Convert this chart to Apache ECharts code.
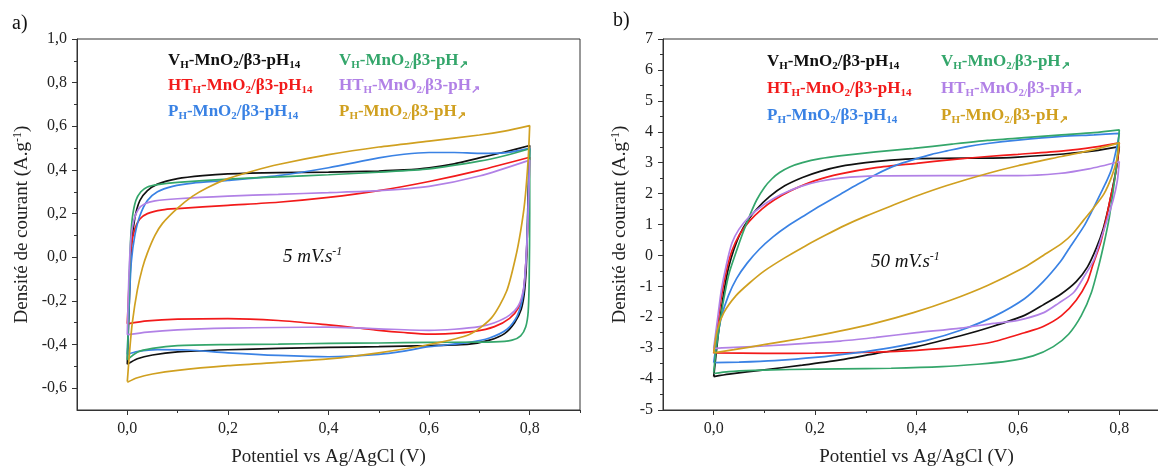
<!DOCTYPE html>
<html><head><meta charset="utf-8">
<script src="https://cdn.jsdelivr.net/npm/echarts@6/dist/echarts.min.js"></script>
<style>html,body{margin:0;padding:0;background:#fff}#c{width:1158px;height:468px}</style>
</head><body><div id="c"></div>
<script>
// ---------- data ----------
const seriesNames = ['VH-MnO2/β3-pH14','HTH-MnO2/β3-pH14','PH-MnO2/β3-pH14','VH-MnO2/β3-pH↗','HTH-MnO2/β3-pH↗','PH-MnO2/β3-pH↗'];
const xMajorTicks = [0, 0.2, 0.4, 0.6, 0.8];
const xMinorTicks = [0.1, 0.3, 0.5, 0.7, 0.9];
const yMajorTicksA = [-0.6, -0.4, -0.2, 0, 0.2, 0.4, 0.6, 0.8, 1.0];
const yMinorTicksA = [-0.5, -0.3, -0.1, 0.1, 0.3, 0.5, 0.7, 0.9];
const yMajorTicksB = [-5, -4, -3, -2, -1, 0, 1, 2, 3, 4, 5, 6, 7];
const yMinorTicksB = [-4.5, -3.5, -2.5, -1.5, -0.5, 0.5, 1.5, 2.5, 3.5, 4.5, 5.5, 6.5];

// panel a : 5 mV/s
const a_V14 = [[0,-0.49],[0.004,-0.2],[0.008,0.05],[0.015,0.18],[0.025,0.26],[0.04,0.305],[0.06,0.335],[0.1,0.36],[0.15,0.374],[0.2,0.382],[0.3,0.388],[0.4,0.39],[0.5,0.395],[0.55,0.4],[0.6,0.41],[0.65,0.428],[0.7,0.455],[0.75,0.482],[0.8,0.512],
  [0.797,0.3],[0.794,0.0],[0.79,-0.15],[0.783,-0.24],[0.77,-0.3],[0.75,-0.35],[0.72,-0.38],[0.68,-0.398],[0.6,-0.405],[0.5,-0.41],[0.4,-0.413],[0.3,-0.418],[0.2,-0.424],[0.1,-0.434],[0.05,-0.448],[0.02,-0.465],[0,-0.49]];
const a_HT14 = [[0,-0.305],[0.004,-0.1],[0.008,0.05],[0.015,0.13],[0.025,0.175],[0.04,0.2],[0.07,0.217],[0.1,0.223],[0.2,0.238],[0.3,0.252],[0.4,0.274],[0.5,0.305],[0.6,0.347],[0.7,0.398],[0.8,0.458],
  [0.797,0.2],[0.793,0.0],[0.788,-0.15],[0.778,-0.23],[0.76,-0.28],[0.73,-0.318],[0.69,-0.34],[0.64,-0.35],[0.6,-0.352],[0.55,-0.345],[0.5,-0.335],[0.45,-0.322],[0.4,-0.31],[0.3,-0.29],[0.2,-0.281],[0.1,-0.284],[0.04,-0.292],[0,-0.305]];
const a_P14 = [[0,-0.445],[0.004,-0.2],[0.008,-0.02],[0.015,0.1],[0.025,0.19],[0.04,0.26],[0.06,0.3],[0.09,0.325],[0.13,0.34],[0.2,0.352],[0.3,0.374],[0.4,0.41],[0.5,0.455],[0.55,0.472],[0.6,0.48],[0.65,0.48],[0.7,0.476],[0.75,0.478],[0.8,0.5],
  [0.797,0.25],[0.793,0.0],[0.787,-0.17],[0.775,-0.27],[0.755,-0.33],[0.72,-0.37],[0.68,-0.39],[0.6,-0.41],[0.55,-0.43],[0.5,-0.445],[0.4,-0.456],[0.3,-0.45],[0.2,-0.438],[0.12,-0.425],[0.06,-0.423],[0.02,-0.432],[0,-0.445]];
const a_Vup = [[0,-0.47],[0.003,-0.2],[0.006,0.05],[0.01,0.18],[0.017,0.26],[0.027,0.3],[0.04,0.322],[0.06,0.333],[0.1,0.343],[0.2,0.358],[0.3,0.368],[0.4,0.378],[0.5,0.39],[0.6,0.405],[0.7,0.44],[0.75,0.465],[0.8,0.497],
  [0.8,0.2],[0.799,-0.1],[0.797,-0.25],[0.792,-0.32],[0.782,-0.36],[0.765,-0.38],[0.73,-0.388],[0.6,-0.39],[0.5,-0.393],[0.4,-0.395],[0.3,-0.398],[0.2,-0.4],[0.1,-0.405],[0.05,-0.418],[0.02,-0.435],[0,-0.47]];
const a_HTup = [[0,-0.355],[0.003,-0.1],[0.007,0.08],[0.013,0.17],[0.022,0.22],[0.035,0.245],[0.055,0.258],[0.1,0.268],[0.2,0.28],[0.3,0.288],[0.4,0.296],[0.5,0.305],[0.6,0.325],[0.7,0.372],[0.8,0.445],
  [0.797,0.2],[0.793,0.0],[0.788,-0.14],[0.778,-0.22],[0.76,-0.265],[0.73,-0.3],[0.7,-0.318],[0.65,-0.33],[0.6,-0.335],[0.5,-0.328],[0.4,-0.32],[0.3,-0.322],[0.2,-0.325],[0.1,-0.333],[0.04,-0.343],[0,-0.355]];
const a_Pup = [[0,-0.57],[0.005,-0.42],[0.01,-0.3],[0.02,-0.15],[0.03,-0.05],[0.04,0.02],[0.055,0.1],[0.07,0.155],[0.1,0.225],[0.13,0.28],[0.16,0.32],[0.2,0.36],[0.25,0.395],[0.3,0.425],[0.4,0.47],[0.5,0.505],[0.6,0.532],[0.7,0.56],[0.75,0.578],[0.8,0.603],
  [0.797,0.45],[0.79,0.25],[0.782,0.12],[0.772,0.0],[0.754,-0.156],[0.724,-0.278],[0.68,-0.354],[0.6,-0.4],[0.5,-0.438],[0.4,-0.466],[0.3,-0.482],[0.2,-0.497],[0.1,-0.518],[0.05,-0.535],[0.02,-0.552],[0,-0.573]];

// panel b : 50 mV/s
const b_V14 = [[0,-3.92],[0.008,-2.7],[0.015,-1.75],[0.022,-1.0],[0.03,-0.35],[0.04,0.2],[0.052,0.7],[0.066,1.1],[0.085,1.5],[0.11,1.9],[0.14,2.25],[0.175,2.52],[0.21,2.72],[0.25,2.88],[0.3,3.0],[0.35,3.08],[0.4,3.13],[0.5,3.15],[0.55,3.15],[0.6,3.18],[0.69,3.28],[0.75,3.38],[0.8,3.52],
  [0.795,2.9],[0.787,2.2],[0.778,1.5],[0.768,0.85],[0.755,0.25],[0.737,-0.38],[0.715,-0.85],[0.686,-1.24],[0.65,-1.6],[0.613,-1.94],[0.55,-2.3],[0.487,-2.6],[0.4,-2.95],[0.321,-3.17],[0.25,-3.38],[0.175,-3.55],[0.1,-3.7],[0.03,-3.84],[0,-3.92]];
const b_HT14 = [[0,-3.17],[0.008,-2.2],[0.015,-1.35],[0.025,-0.5],[0.036,0.15],[0.05,0.65],[0.07,1.1],[0.095,1.5],[0.12,1.8],[0.15,2.08],[0.2,2.42],[0.25,2.64],[0.32,2.84],[0.4,2.98],[0.47,3.1],[0.54,3.2],[0.6,3.27],[0.69,3.38],[0.75,3.5],[0.8,3.64],
  [0.796,3.0],[0.79,2.4],[0.783,1.9],[0.773,1.1],[0.763,0.4],[0.748,-0.3],[0.737,-0.85],[0.715,-1.45],[0.686,-1.95],[0.65,-2.3],[0.613,-2.5],[0.55,-2.8],[0.487,-2.95],[0.4,-3.07],[0.32,-3.13],[0.2,-3.16],[0.1,-3.17],[0,-3.15]];
const b_P14 = [[0,-3.47],[0.006,-2.8],[0.015,-2.0],[0.029,-1.3],[0.045,-0.75],[0.066,-0.25],[0.09,0.2],[0.117,0.6],[0.146,0.95],[0.18,1.3],[0.212,1.62],[0.25,1.98],[0.284,2.3],[0.32,2.62],[0.36,2.92],[0.394,3.1],[0.43,3.27],[0.46,3.38],[0.5,3.52],[0.54,3.62],[0.6,3.73],[0.686,3.85],[0.75,3.9],[0.8,3.95],
  [0.795,3.5],[0.785,2.8],[0.775,2.4],[0.763,2.0],[0.745,1.4],[0.73,0.94],[0.7,0.2],[0.684,-0.2],[0.65,-0.85],[0.613,-1.4],[0.552,-1.98],[0.487,-2.42],[0.42,-2.75],[0.35,-2.98],[0.28,-3.15],[0.2,-3.3],[0.12,-3.4],[0.05,-3.45],[0,-3.47]];
const b_Vup = [[0,-3.78],[0.005,-3.0],[0.012,-2.2],[0.02,-1.4],[0.03,-0.6],[0.044,0.1],[0.058,0.75],[0.072,1.33],[0.085,1.8],[0.1,2.2],[0.115,2.48],[0.13,2.68],[0.15,2.86],[0.175,3.0],[0.21,3.13],[0.248,3.22],[0.32,3.35],[0.394,3.46],[0.47,3.6],[0.54,3.72],[0.62,3.82],[0.686,3.9],[0.75,3.97],[0.8,4.06],
  [0.795,3.0],[0.788,2.1],[0.78,1.2],[0.77,0.4],[0.76,-0.3],[0.745,-1.2],[0.725,-1.95],[0.7,-2.55],[0.67,-2.95],[0.63,-3.25],[0.58,-3.42],[0.52,-3.52],[0.45,-3.6],[0.35,-3.65],[0.25,-3.67],[0.15,-3.69],[0.08,-3.72],[0.03,-3.76],[0,-3.82]];
const b_HTup = [[0,-3.01],[0.008,-2.0],[0.015,-1.13],[0.025,-0.3],[0.036,0.4],[0.05,0.85],[0.07,1.25],[0.095,1.6],[0.12,1.86],[0.145,2.06],[0.175,2.25],[0.21,2.4],[0.25,2.5],[0.32,2.57],[0.45,2.58],[0.6,2.58],[0.68,2.65],[0.74,2.8],[0.8,3.03],
  [0.796,2.4],[0.788,1.8],[0.776,1.15],[0.763,0.5],[0.75,-0.14],[0.73,-0.7],[0.71,-1.2],[0.68,-1.55],[0.651,-1.85],[0.6,-2.1],[0.552,-2.2],[0.487,-2.35],[0.4,-2.5],[0.32,-2.65],[0.25,-2.77],[0.175,-2.85],[0.1,-2.93],[0.03,-2.98],[0,-3.01]];
const b_Pup = [[0,-3.15],[0.007,-2.42],[0.02,-1.85],[0.044,-1.3],[0.07,-0.9],[0.1,-0.5],[0.14,-0.08],[0.18,0.3],[0.22,0.65],[0.26,0.98],[0.3,1.27],[0.35,1.6],[0.4,1.92],[0.46,2.26],[0.54,2.65],[0.6,2.9],[0.686,3.2],[0.75,3.42],[0.8,3.64],
  [0.795,3.1],[0.785,2.55],[0.77,2.0],[0.75,1.55],[0.73,1.15],[0.708,0.7],[0.686,0.38],[0.65,0.0],[0.613,-0.38],[0.54,-0.97],[0.467,-1.45],[0.394,-1.85],[0.321,-2.18],[0.248,-2.45],[0.175,-2.68],[0.102,-2.88],[0.04,-3.05],[0,-3.15]];

const panelA = [a_V14, a_HT14, a_P14, a_Vup, a_HTup, a_Pup];
const panelB = [b_V14, b_HT14, b_P14, b_Vup, b_HTup, b_Pup];

// ---------- styling ----------
const colors = ['#111111', '#f21a1a', '#3a82e4', '#34a66b', '#b181e6', '#d0a020'];
const SERIF = '"Liberation Serif", "Times New Roman", serif';
const AX = '#333';

const labelParts = {
  'VH-MnO2/β3-pH14': [['t','V'],['s','H'],['t','-MnO'],['s','2'],['t','/β3-pH'],['s','14']],
  'HTH-MnO2/β3-pH14': [['t','HT'],['s','H'],['t','-MnO'],['s','2'],['t','/β3-pH'],['s','14']],
  'PH-MnO2/β3-pH14': [['t','P'],['s','H'],['t','-MnO'],['s','2'],['t','/β3-pH'],['s','14']],
  'VH-MnO2/β3-pH↗': [['t','V'],['s','H'],['t','-MnO'],['s','2/'],['t','β3-pH'],['s','↗']],
  'HTH-MnO2/β3-pH↗': [['t','HT'],['s','H'],['t','-MnO'],['s','2/'],['t','β3-pH'],['s','↗']],
  'PH-MnO2/β3-pH↗': [['t','P'],['s','H'],['t','-MnO'],['s','2/'],['t','β3-pH'],['s','↗']]
};
const rich = {};
colors.forEach((c, i) => {
  rich['t' + i] = {color: c, fontFamily: SERIF, fontWeight: 'bold', fontSize: 17, lineHeight: 20, verticalAlign: 'middle'};
  rich['s' + i] = {color: c, fontFamily: SERIF, fontWeight: 'bold', fontSize: 11, lineHeight: 14, verticalAlign: 'bottom'};
});
function legendText(name) {
  const i = seriesNames.indexOf(name);
  return labelParts[name].map(p => '{' + p[0] + i + '|' + p[1] + '}').join('');
}
function mkLegend(names, left, top, gap) {
  return {orient: 'vertical', left: left, top: top, itemGap: gap, itemWidth: 0, itemHeight: 0, icon: 'none',
    padding: 0, data: names, formatter: legendText, selectedMode: false,
    textStyle: {rich: rich, fontFamily: SERIF, fontSize: 17, fontWeight: 'bold'}};
}
const fmt1 = v => v.toFixed(1).replace('.', ',');
const fmt0 = v => String(Math.round(v));

function mainX(gi, name) {
  return {type: 'value', gridIndex: gi, min: -0.1, max: 0.9, position: 'bottom',
    name: name, nameLocation: 'middle', nameGap: 38,
    nameTextStyle: {fontFamily: SERIF, fontSize: 19, color: '#222'},
    axisLine: {show: true, onZero: false, lineStyle: {color: AX, width: 1}},
    axisTick: {show: true, customValues: xMajorTicks, length: 5, lineStyle: {color: AX}},
    axisLabel: {customValues: xMajorTicks, formatter: fmt1, margin: 11, fontFamily: SERIF, fontSize: 16, color: '#222'},
    splitLine: {show: false}};
}
function minorX(gi) {
  return {type: 'value', gridIndex: gi, min: -0.1, max: 0.9, position: 'bottom',
    axisLine: {show: false, onZero: false}, axisLabel: {show: false}, splitLine: {show: false},
    axisTick: {show: true, customValues: xMinorTicks, length: 3, lineStyle: {color: AX}}};
}
function mainY(gi, min, max, ticks, f, gap) {
  return {type: 'value', gridIndex: gi, min: min, max: max, position: 'left',
    name: '{t|Densité de courant (A.g}{u|-1}{t|)}', nameLocation: 'middle', nameGap: gap, nameRotate: 90,
    nameTextStyle: {color: '#222', rich: {t: {fontFamily: SERIF, fontSize: 19, color: '#222'}, u: {fontFamily: SERIF, fontSize: 12, color: '#222', verticalAlign: 'top', lineHeight: 20}}},
    axisLine: {show: true, onZero: false, lineStyle: {color: AX, width: 1}},
    axisTick: {show: true, customValues: ticks, length: 5, lineStyle: {color: AX}},
    axisLabel: {customValues: ticks, formatter: f, margin: 10, fontFamily: SERIF, fontSize: 16, color: '#222'},
    splitLine: {show: false}};
}
function minorY(gi, min, max, ticks) {
  return {type: 'value', gridIndex: gi, min: min, max: max, position: 'left',
    axisLine: {show: false, onZero: false}, axisLabel: {show: false}, splitLine: {show: false},
    axisTick: {show: true, customValues: ticks, length: 3, lineStyle: {color: AX}}};
}

const series = [];
panelA.forEach((d, i) => series.push({type: 'line', name: seriesNames[i], data: d, xAxisIndex: 0, yAxisIndex: 0,
  symbol: 'none', smooth: 0.25, lineStyle: {width: 1.7, color: colors[i]}, itemStyle: {color: colors[i]}, emphasis: {disabled: true}}));
panelB.forEach((d, i) => series.push({type: 'line', name: seriesNames[i], data: d, xAxisIndex: 2, yAxisIndex: 2,
  symbol: 'none', smooth: 0.25, lineStyle: {width: 1.7, color: colors[i]}, itemStyle: {color: colors[i]}, emphasis: {disabled: true}}));

const xName = 'Potentiel vs Ag/AgCl (V)';
const option = {
  animation: false,
  backgroundColor: '#fff',
  grid: [
    {left: 77, top: 39, width: 503, height: 371, show: true, borderColor: AX, borderWidth: 1, outerBoundsMode: 'none', containLabel: false},
    {left: 663, top: 39, width: 507, height: 371, show: true, borderColor: AX, borderWidth: 1, outerBoundsMode: 'none', containLabel: false}
  ],
  xAxis: [mainX(0, xName), minorX(0), mainX(1, xName), minorX(1)],
  yAxis: [mainY(0, -0.7, 1.0, yMajorTicksA, fmt1, 45), minorY(0, -0.7, 1.0, yMinorTicksA),
          mainY(1, -5, 7, yMajorTicksB, fmt0, 33), minorY(1, -5, 7, yMinorTicksB)],
  legend: [
    mkLegend(seriesNames.slice(0, 3), 163, 52, 7),
    mkLegend(seriesNames.slice(3, 6), 334, 52, 7),
    mkLegend(seriesNames.slice(0, 3), 762, 53, 8.5),
    mkLegend(seriesNames.slice(3, 6), 936, 53, 8.5)
  ],
  graphic: [
    {type: 'text', left: 12, top: 14, style: {text: 'a)', font: '20px ' + SERIF, fill: '#111'}},
    {type: 'text', left: 613, top: 11, style: {text: 'b)', font: '20px ' + SERIF, fill: '#111'}},
    {type: 'text', left: 283, top: 246, style: {text: '{i|5 mV.s}{u|-1}', rich: {
      i: {fontFamily: SERIF, fontStyle: 'italic', fontSize: 19, fill: '#111', lineHeight: 22},
      u: {fontFamily: SERIF, fontStyle: 'italic', fontSize: 12, fill: '#111', verticalAlign: 'top', lineHeight: 22}}}},
    {type: 'text', left: 871, top: 251, style: {text: '{i|50 mV.s}{u|-1}', rich: {
      i: {fontFamily: SERIF, fontStyle: 'italic', fontSize: 19, fill: '#111', lineHeight: 22},
      u: {fontFamily: SERIF, fontStyle: 'italic', fontSize: 12, fill: '#111', verticalAlign: 'top', lineHeight: 22}}}}
  ],
  series: series
};
const chart = echarts.init(document.getElementById('c'), null, {renderer: 'canvas'});
chart.setOption(option);
</script></body></html>
